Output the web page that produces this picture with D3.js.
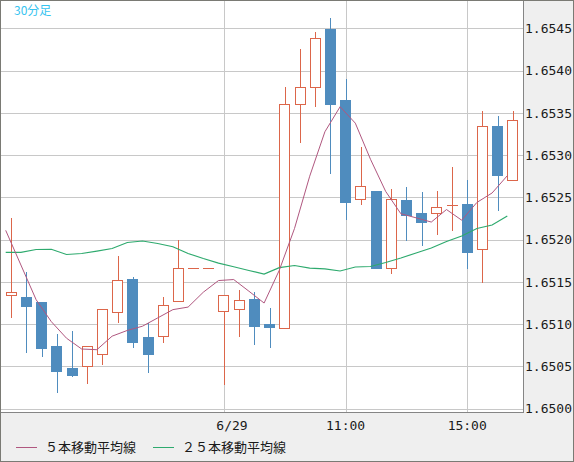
<!DOCTYPE html>
<html>
<head>
<meta charset="utf-8">
<script src="https://cdn.jsdelivr.net/npm/d3@7"></script>
<style>
  html, body { margin: 0; padding: 0; background: #fff; }
  svg { display: block; }
</style>
</head>
<body>
<svg id="chart"></svg>
<script>
// 30 minute candles, oldest first
var opens  = [1.65135, 1.65132, 1.65126, 1.65074, 1.65048, 1.65050, 1.65065, 1.65114, 1.65153, 1.65085,
              1.65086, 1.65127, 1.65167, 1.65167, 1.65116, 1.65118, 1.65130, 1.65100, 1.65096, 1.65360,
              1.65381, 1.65449, 1.65365, 1.65248, 1.65258, 1.65167, 1.65247, 1.65231, 1.65231, 1.65241,
              1.65242, 1.65189, 1.65334, 1.65271];
var highs  = [1.65226, 1.65162, 1.65126, 1.65088, 1.65092, 1.65074, 1.65118, 1.65181, 1.65156, 1.65101,
              1.65132, 1.65199, 1.65167, 1.65167, 1.65134, 1.65140, 1.65138, 1.65119, 1.65380, 1.65425,
              1.65446, 1.65462, 1.65390, 1.65310, 1.65258, 1.65260, 1.65262, 1.65256, 1.65258, 1.65286,
              1.65271, 1.65352, 1.65346, 1.65352];
var lows   = [1.65108, 1.65067, 1.65062, 1.65020, 1.65039, 1.65030, 1.65053, 1.65102, 1.65073, 1.65043,
              1.65079, 1.65127, 1.65167, 1.65167, 1.65029, 1.65086, 1.65077, 1.65073, 1.65096, 1.65315,
              1.65358, 1.65279, 1.65224, 1.65242, 1.65167, 1.65161, 1.65200, 1.65194, 1.65207, 1.65211,
              1.65167, 1.65150, 1.65235, 1.65271];
var closes = [1.65138, 1.65122, 1.65072, 1.65045, 1.65040, 1.65074, 1.65118, 1.65152, 1.65079, 1.65065,
              1.65123, 1.65167, 1.65167, 1.65167, 1.65134, 1.65129, 1.65098, 1.65097, 1.65361, 1.65381,
              1.65438, 1.65361, 1.65245, 1.65264, 1.65167, 1.65248, 1.65229, 1.65221, 1.65239, 1.65241,
              1.65185, 1.65334, 1.65277, 1.65341];

// moving averages, one value per candle
var ma5  = [1.65211, 1.65170, 1.65129, 1.65103, 1.650834, 1.650706, 1.650698, 1.650858, 1.650926, 1.650976,
            1.651074, 1.651172, 1.651202, 1.651378, 1.651516, 1.651528, 1.65139, 1.65125, 1.651638, 1.652132,
            1.65275, 1.653276, 1.653572, 1.653378, 1.65295, 1.65257, 1.652306, 1.652258, 1.652208, 1.652356,
            1.65223, 1.65244, 1.652552, 1.652756];
var ma25 = [1.65185, 1.65185, 1.651883, 1.651886, 1.651824, 1.651836, 1.651865, 1.651895, 1.651966, 1.651984,
            1.651954, 1.651916, 1.651836, 1.651777, 1.651723, 1.651679, 1.651635, 1.651593, 1.651668, 1.651694,
            1.651664, 1.651653, 1.651629, 1.651676, 1.651682, 1.651729, 1.651783, 1.651842, 1.651901, 1.651978,
            1.652043, 1.652132, 1.652173, 1.652279];

var yTicks = [1.6500, 1.6505, 1.6510, 1.6515, 1.6520, 1.6525, 1.6530, 1.6535, 1.6540, 1.6545];
var xTickIndex  = [14, 22, 30];
var xTickLabels = ["6/29", "11:00", "15:00"];

var legendNames = ["５本移動平均線", "２５本移動平均線"];

var width = 574, height = 462;
var plotRight = 523, plotBottom = 412;
var upColor = "#dc664a", downColor = "#4f8cbe";
var ma5Color = "#b0577f", ma25Color = "#2eaa6e";

var svg = d3.select("#chart").attr("width", width).attr("height", height);

var x = d3.scaleLinear().domain([0, opens.length - 1]).range([11.2, 512.8]);
var y = d3.scaleLinear().domain([1.6500, 1.6545]).range([408.7, 28.3]);

var candles = opens.map(function(o, i) {
  return {i: i, o: o, h: highs[i], l: lows[i], c: closes[i]};
});

// panels
svg.append("rect").attr("width", width).attr("height", height).attr("fill", "#efefef");
svg.append("rect").attr("x", 0).attr("y", 0).attr("width", plotRight).attr("height", plotBottom)
  .attr("fill", "#fff");

svg.append("defs").append("clipPath").attr("id", "plotclip")
  .append("rect").attr("x", 1).attr("y", 1).attr("width", plotRight - 1).attr("height", plotBottom - 1);

// grid
var grid = svg.append("g").attr("shape-rendering", "crispEdges");
grid.selectAll(".hgrid").data(yTicks).enter().append("line")
  .attr("x1", 0).attr("x2", plotRight)
  .attr("y1", function(d) { return Math.round(y(d)) + 0.5; })
  .attr("y2", function(d) { return Math.round(y(d)) + 0.5; })
  .attr("stroke", "#c8c8c8");
grid.selectAll(".vgrid").data(xTickIndex).enter().append("line")
  .attr("y1", 0).attr("y2", plotBottom)
  .attr("x1", function(d) { return Math.round(x(d)) + 0.5; })
  .attr("x2", function(d) { return Math.round(x(d)) + 0.5; })
  .attr("stroke", "#c8c8c8");

// candles
var cg = svg.append("g").attr("clip-path", "url(#plotclip)").attr("shape-rendering", "crispEdges");
var g = cg.selectAll(".candle").data(candles).enter().append("g");

g.append("line")
  .attr("x1", function(d) { return Math.round(x(d.i)) + 0.5; })
  .attr("x2", function(d) { return Math.round(x(d.i)) + 0.5; })
  .attr("y1", function(d) { return Math.round(y(d.h)); })
  .attr("y2", function(d) { return Math.round(y(d.l)) + 1; })
  .attr("stroke", function(d) { return d.c >= d.o ? upColor : downColor; });

g.each(function(d) {
  var sel = d3.select(this);
  var left = Math.round(x(d.i) - 5.5);
  var top = Math.round(y(Math.max(d.o, d.c)));
  var bot = Math.round(y(Math.min(d.o, d.c)));
  if (d.c >= d.o) {
    if (bot - top < 1) {
      sel.append("line").attr("x1", left).attr("x2", left + 11)
        .attr("y1", top + 0.5).attr("y2", top + 0.5).attr("stroke", upColor);
    } else {
      sel.append("rect").attr("x", left + 0.5).attr("y", top + 0.5)
        .attr("width", 10).attr("height", bot - top)
        .attr("fill", "#fff").attr("stroke", upColor);
    }
  } else {
    sel.append("rect").attr("x", left).attr("y", top)
      .attr("width", 11).attr("height", Math.max(2, bot - top + 1))
      .attr("fill", downColor);
  }
});

// moving averages, drawn at the left edge of each candle
var line = function(vals) {
  return d3.line()
    .x(function(d, i) { return x(i) - 5.5; })
    .y(function(d) { return y(d); })(vals);
};
var lg = svg.append("g").attr("clip-path", "url(#plotclip)");
lg.append("path").attr("d", line(ma25)).attr("fill", "none").attr("stroke", ma25Color).attr("stroke-width", 1.2);
lg.append("path").attr("d", line(ma5)).attr("fill", "none").attr("stroke", ma5Color).attr("stroke-width", 1);

// borders
var b = svg.append("g").attr("shape-rendering", "crispEdges").attr("fill", "none");
b.append("line").attr("x1", plotRight + 0.5).attr("x2", plotRight + 0.5).attr("y1", 0).attr("y2", plotBottom + 1)
  .attr("stroke", "#858585");
b.append("line").attr("x1", 0).attr("x2", plotRight + 1).attr("y1", plotBottom + 0.5).attr("y2", plotBottom + 0.5)
  .attr("stroke", "#858585");
b.append("rect").attr("x", 0.5).attr("y", 0.5).attr("width", width - 1).attr("height", height - 1)
  .attr("stroke", "#7a7a74");

// right axis labels
svg.append("g").selectAll("text").data(yTicks).enter().append("text")
  .attr("x", 525)
  .attr("y", function(d) { return y(d); })
  .attr("dy", "0.36em")
  .attr("font-family", "DejaVu Sans Mono, monospace")
  .attr("font-size", 13)
  .attr("fill", "#1a1a1a")
  .text(function(d) { return d3.format(".4f")(d); });

// time labels
svg.append("g").selectAll("text").data(xTickIndex).enter().append("text")
  .attr("x", function(d, i) { return x(d) + (xTickLabels[i].indexOf("/") >= 0 ? 8 : 0); })
  .attr("y", 430)
  .attr("text-anchor", "middle")
  .attr("font-family", "DejaVu Sans Mono, monospace")
  .attr("font-size", 13)
  .attr("fill", "#1a1a1a")
  .text(function(d, i) { return xTickLabels[i]; });

// legend
var legendX = [16, 153];
var legendColors = [ma5Color, ma25Color];
var leg = svg.append("g").selectAll("g").data(legendNames).enter().append("g")
  .attr("transform", function(d, i) { return "translate(" + legendX[i] + ",447)"; });
leg.append("line").attr("x1", 0).attr("x2", 21).attr("y1", 0.5).attr("y2", 0.5)
  .attr("stroke", function(d, i) { return legendColors[i]; });
leg.append("text").attr("x", 29).attr("y", 0).attr("dy", "0.38em")
  .attr("font-family", "Noto Sans CJK JP, sans-serif")
  .attr("font-size", 13)
  .attr("fill", "#1a1a1a")
  .text(function(d) { return d; });

// timeframe label
svg.append("text").attr("x", 14).attr("y", 15)
  .attr("font-family", "Noto Sans CJK JP, sans-serif")
  .attr("font-size", 12)
  .attr("fill", "#36c4f0")
  .text("30分足");
</script>
</body>
</html>
